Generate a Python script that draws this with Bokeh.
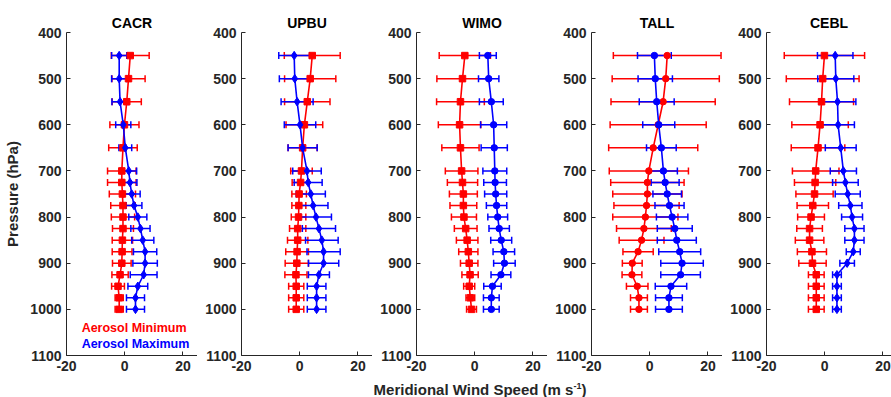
from bokeh.plotting import figure
from bokeh.layouts import row, column
from bokeh.models import ColumnDataSource, Whisker, TeeHead, Label, Range1d, Div
from bokeh.embed import file_html
from bokeh.resources import INLINE

pressure = [450, 500, 550, 600, 650, 700, 725, 750, 775, 800, 825, 850, 875, 900, 925, 950, 975, 1000]
stations = ["CACR", "UPBU", "WIMO", "TALL", "CEBL"]

cacr_min = [1.9, 1.3, 0.7, -0.1, -0.6, -1.0, -1.0, -0.8, -0.6, -0.6, -0.6, -0.8, -0.9, -1.0, -1.6, -2.3, -1.9, -1.9]
cacr_min_err = [6.5, 5.7, 5.0, 5.0, 4.9, 4.9, 4.9, 4.5, 4.2, 4.0, 3.6, 3.5, 3.4, 3.2, 2.8, 2.2, 1.4, 1.4]
cacr_max = [-1.9, -1.9, -1.6, -0.5, 0.2, 1.4, 1.8, 2.4, 3.2, 4.5, 5.4, 6.2, 7.0, 7.0, 6.5, 4.5, 3.7, 3.7]
cacr_max_err = [2.6, 2.6, 2.8, 2.6, 2.2, 2.7, 2.4, 2.9, 2.7, 3.1, 3.3, 3.8, 4.0, 4.2, 4.6, 3.4, 3.1, 3.1]

upbu_min = [4.3, 3.6, 2.6, 1.6, 1.0, 0.6, 0.3, -0.2, -0.3, -0.4, -0.7, -0.7, -0.9, -1.0, -1.3, -1.2, -1.2, -1.2]
upbu_min_err = [9.6, 8.8, 7.8, 6.3, 5.0, 3.7, 2.9, 2.5, 2.4, 2.5, 2.8, 3.5, 3.9, 4.0, 3.8, 2.6, 2.6, 2.6]
upbu_max = [-1.9, -1.7, -0.9, 0.1, 1.0, 2.5, 2.9, 3.8, 4.6, 5.6, 6.6, 7.6, 8.2, 8.2, 6.6, 5.8, 5.8, 5.8]
upbu_max_err = [5.3, 5.3, 5.5, 5.4, 5.0, 4.9, 4.8, 5.0, 5.1, 5.3, 5.7, 5.6, 5.7, 5.2, 3.6, 3.2, 3.2, 3.2]

wimo_min = [-3.4, -4.2, -4.9, -5.2, -4.9, -4.5, -4.2, -3.9, -3.9, -3.7, -3.1, -2.6, -2.2, -1.9, -1.6, -1.9, -1.5, -1.1]
wimo_min_err = [8.8, 8.8, 8.2, 7.3, 6.4, 5.6, 5.2, 4.8, 4.6, 4.3, 3.9, 3.7, 3.3, 3.0, 2.8, 1.9, 1.5, 1.7]
wimo_max = [4.5, 4.8, 5.7, 6.5, 6.7, 6.9, 7.0, 7.2, 7.5, 7.9, 8.4, 9.1, 10.0, 10.2, 9.0, 6.1, 5.7, 5.7]
wimo_max_err = [2.9, 3.5, 4.1, 4.5, 4.5, 4.1, 3.9, 3.8, 3.5, 3.4, 3.5, 3.6, 3.7, 3.7, 3.4, 3.0, 2.7, 2.7]

tall_min = [6.0, 5.5, 4.6, 2.9, 1.2, -0.3, -0.8, -0.8, -1.1, -1.5, -2.0, -2.8, -4.0, -6.0, -6.1, -4.3, -3.7, -3.7]
tall_min_err = [18.5, 18.4, 17.9, 16.5, 15.3, 13.6, 12.6, 11.9, 11.2, 11.2, 9.4, 7.7, 5.2, 3.4, 3.4, 3.7, 2.9, 2.9]
tall_max = [1.6, 1.9, 2.4, 3.1, 4.0, 4.7, 5.3, 6.0, 6.8, 7.7, 8.6, 9.3, 10.3, 11.1, 10.6, 7.3, 6.6, 6.6]
tall_max_err = [5.8, 5.9, 6.0, 5.5, 5.1, 4.8, 4.8, 4.9, 5.0, 5.4, 6.0, 6.7, 7.2, 7.3, 6.8, 5.4, 4.6, 4.6]

cebl_min = [-0.1, -0.7, -1.1, -1.6, -2.3, -3.1, -3.3, -3.5, -4.1, -4.7, -5.2, -5.2, -4.4, -4.2, -2.9, -2.9, -2.9, -2.9]
cebl_min_err = [13.8, 12.5, 11.0, 9.7, 9.2, 8.0, 7.1, 6.4, 5.4, 4.6, 4.4, 4.9, 5.0, 4.7, 2.7, 2.7, 2.7, 2.7]
cebl_max = [3.6, 3.8, 4.4, 4.6, 5.5, 6.4, 7.1, 7.9, 8.8, 9.4, 10.2, 10.2, 9.8, 7.7, 4.2, 4.2, 4.2, 4.2]
cebl_max_err = [6.1, 6.2, 6.3, 5.6, 5.3, 4.5, 4.4, 4.3, 4.0, 3.6, 3.3, 3.3, 2.4, 2.5, 1.5, 1.5, 1.5, 1.5]

series = {
    "CACR": (cacr_min, cacr_min_err, cacr_max, cacr_max_err, "square", "diamond"),
    "UPBU": (upbu_min, upbu_min_err, upbu_max, upbu_max_err, "square", "diamond"),
    "WIMO": (wimo_min, wimo_min_err, wimo_max, wimo_max_err, "square", "circle"),
    "TALL": (tall_min, tall_min_err, tall_max, tall_max_err, "circle", "circle"),
    "CEBL": (cebl_min, cebl_min_err, cebl_max, cebl_max_err, "square", "diamond"),
}

x_ticks = [-20, 0, 20]
x_tick_labels = {-20: "-20", 0: "0", 20: "20"}
y_ticks = [400, 500, 600, 700, 800, 900, 1000, 1100]
legend_labels = ["Aerosol Minimum", "Aerosol Maximum"]
x_label_html = "Meridional Wind Speed (m s<sup style='font-size:9px'>-1</sup>)"

FONT = "Liberation Sans"
AX = "#262626"
RED = "#ff0000"
BLUE = "#0000ff"

FRAME_W = 131
PX_PER_UNIT = FRAME_W / 45.0


def add_series(p, mean, err, color, marker):
    src = ColumnDataSource(dict(
        p=pressure, x=mean,
        lo=[m - e for m, e in zip(mean, err)],
        hi=[m + e for m, e in zip(mean, err)],
    ))
    w = Whisker(base="p", lower="lo", upper="hi", dimension="width", source=src,
                line_color=color, line_width=1.5,
                upper_head=TeeHead(size=7, line_color=color, line_width=1.5),
                lower_head=TeeHead(size=7, line_color=color, line_width=1.5))
    p.add_layout(w)
    p.line("x", "p", source=src, line_color=color, line_width=1.6)
    size = 8.5 if marker == "diamond" else 6.5
    p.scatter("x", "p", source=src, marker=marker, size=size,
              fill_color=color, line_color=color)


figs = []
for i, name in enumerate(stations):
    last = i == len(stations) - 1
    left = 66 if i == 0 else 44
    fw = FRAME_W if not last else 125
    x_end = -20 + fw / PX_PER_UNIT
    p = figure(frame_width=fw, frame_height=323,
               x_range=Range1d(-20, x_end), y_range=Range1d(1100, 400),
               output_backend="svg", toolbar_location=None,
               min_border_left=left, min_border_right=0,
               min_border_top=32, min_border_bottom=22,
               title=name)
    p.title.align = "center"
    p.title.text_font = FONT
    p.title.text_font_size = "14px"
    p.title.text_font_style = "bold"
    p.title.text_color = "black"
    p.title.standoff = 4
    p.outline_line_color = None
    p.background_fill_color = "white"
    p.border_fill_color = "white"
    p.xgrid.visible = False
    p.ygrid.visible = False
    for ax in (p.xaxis, p.yaxis):
        ax.axis_line_color = AX
        ax.axis_line_width = 1
        ax.major_tick_line_color = AX
        ax.major_tick_in = 4
        ax.major_tick_out = 0
        ax.minor_tick_line_color = None
        ax.major_label_text_font = FONT
        ax.major_label_text_font_size = "14px"
        ax.major_label_text_font_style = "bold"
        ax.major_label_text_color = AX
        ax.major_label_standoff = 5
        ax.axis_label_text_font = FONT
        ax.axis_label_text_font_size = "15px"
        ax.axis_label_text_font_style = "bold"
        ax.axis_label_text_color = AX
    p.xaxis.ticker = x_ticks
    p.xaxis.major_label_overrides = x_tick_labels
    p.yaxis.ticker = y_ticks

    mn, mne, mx, mxe, mk_min, mk_max = series[name]
    add_series(p, mn, mne, RED, mk_min)
    add_series(p, mx, mxe, BLUE, mk_max)

    if i == 0:
        p.yaxis.axis_label = "Pressure (hPa)"
        p.yaxis.axis_label_standoff = 6
        p.add_layout(Label(x=-14.8, y=1041, text=legend_labels[0], text_color=RED,
                           text_font=FONT, text_font_size="12.5px", text_font_style="bold",
                           text_baseline="middle"))
        p.add_layout(Label(x=-14.8, y=1074, text=legend_labels[1], text_color=BLUE,
                           text_font=FONT, text_font_size="12.5px", text_font_style="bold",
                           text_baseline="middle"))
    figs.append(p)

xlabel = Div(text=x_label_html, width=300, height=20, margin=(0, 0, 0, 330),
             styles={"font-family": FONT, "font-size": "15px", "font-weight": "bold",
                     "color": AX, "text-align": "center", "line-height": "18px",
                     "width": "300px"})

layout = column(row(*figs, spacing=0), xlabel, spacing=0)
open("out.html", "w").write(file_html(layout, INLINE))
